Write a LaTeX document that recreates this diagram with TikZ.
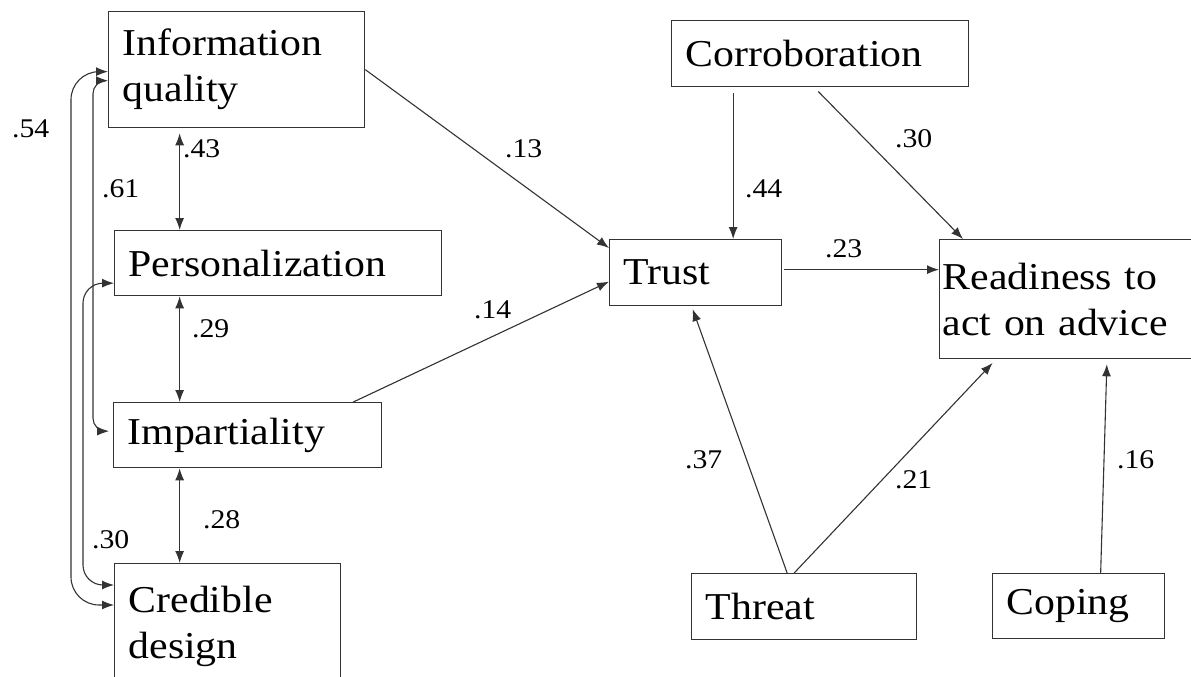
\documentclass[tikz,border=0pt]{standalone}
\usepackage{fontspec}
\setmainfont{Liberation Serif}[FakeStretch=1.1]
\usetikzlibrary{arrows.meta}

\newcommand{\boxfont}{\fontsize{38pt}{46pt}\selectfont}
\newcommand{\coeffont}{\fontsize{27pt}{30pt}\selectfont}

\tikzset{
  var/.style={rectangle,draw=black!80,line width=1.3pt,anchor=north west,
    inner xsep=14pt,inner ysep=0pt,align=left,font=\boxfont},
  coef/.style={anchor=base west,inner sep=0pt,font=\coeffont},
  arr/.style={-{Latex[length=12pt,width=9pt]},draw=black!80,line width=1.1pt},
  dbl/.style={{Latex[length=12pt,width=9pt]}-{Latex[length=12pt,width=9pt]},draw=black!80,line width=1.1pt}
}

\begin{document}
\begin{tikzpicture}[x=1pt,y=-1pt]
\clip (0,0) rectangle (1191,677);
\fill[white] (0,0) rectangle (1191,677);

% left block
\node[var,text width=228pt,minimum height=116pt] (infoq) at (108,11) {Information\\quality};
\node[var,text width=299pt,minimum height=65pt] (pers) at (114,230) {Personalization};
\node[var,text width=240pt,minimum height=65pt] (impart) at (113,402) {Impartiality};
\node[var,text width=198pt,minimum height=126pt] (cred) at (114,563) {Credible\\design};

% right block
\node[var,text width=269pt,minimum height=66pt] (corrob) at (671,20) {Corroboration};
\node[var,text width=144pt,minimum height=66pt] (trust) at (609,239) {Trust};
\node[var,inner xsep=3pt,text width=250pt,minimum height=119pt] (ready) at (939,239) {Readiness to\\act on advice};
\node[var,text width=197pt,minimum height=66pt] (threat) at (691,573) {Threat};
\node[var,text width=144pt,minimum height=65pt] (coping) at (992,573) {Coping};

% correlations
\draw[dbl,shorten <=5pt] ([xshift=-57pt]infoq.south) -- ([xshift=-57pt]infoq.south |- pers.north);
\draw[dbl] ([xshift=-57pt]infoq.south |- pers.south) -- ([xshift=-57pt]infoq.south |- impart.north);
\draw[dbl] ([xshift=-57pt]infoq.south |- impart.south) -- ([xshift=-57pt]infoq.south |- cred.north);
\draw[dbl,rounded corners=28pt] ([yshift=-2pt]infoq.west) -| ([xshift=-37pt]infoq.south west) |- ([yshift=-42pt]cred.north west);
\draw[dbl,rounded corners=13pt,shorten >=4pt] ([yshift=-11pt]infoq.west) -| ([xshift=-15pt]infoq.south west) |- ([yshift=4pt]impart.west);
\draw[dbl,rounded corners=20pt] ([yshift=-20pt]pers.west) -| ([xshift=-30pt]impart.south west) |- ([yshift=-22pt]cred.north west);

% paths
\draw[arr] (infoq.east) -- ([yshift=-9pt]trust.north west);
\draw[arr] ([xshift=-29pt]impart.north east) -- ([yshift=-9pt]trust.west);
\draw[arr,shorten <=6pt] ([xshift=-87pt]corrob.south) -- ([xshift=-87pt]corrob.south |- trust.north);
\draw[arr,shorten <=6pt] ([xshift=-6pt]corrob.south) -- ([xshift=24pt]ready.north west);
\draw[arr,shorten <=2pt] ([yshift=3pt]trust.east) -- ([yshift=3pt]trust.east -| ready.west);
\draw[arr,shorten >=3pt] ([xshift=-17pt]threat.north) -- ([xshift=-4pt]trust.south);
\draw[arr,shorten >=5pt] ([xshift=-10pt]threat.north) -- ([xshift=57pt]ready.south west);
\draw[arr,shorten >=5pt] ([xshift=22pt]coping.north) -- ([xshift=168pt]ready.south west);

% coefficients
\node[coef] (c54) at (12,137) {.54};
\node[coef] (c43) at (183,157) {.43};
\node[coef] (c61) at (102,197) {.61};
\node[coef] (c29) at (192,337) {.29};
\node[coef] (c30a) at (92,548) {.30};
\node[coef] (c28) at (203,528) {.28};
\node[coef] (c13) at (505,157) {.13};
\node[coef] (c14) at (474,318) {.14};
\node[coef] (c44) at (745,197) {.44};
\node[coef] (c30b) at (895,147) {.30};
\node[coef] (c23) at (825,257) {.23};
\node[coef] (c37) at (685,468) {.37};
\node[coef] (c21) at (895,488) {.21};
\node[coef] (c16) at (1117,468) {.16};
\end{tikzpicture}
\end{document}
